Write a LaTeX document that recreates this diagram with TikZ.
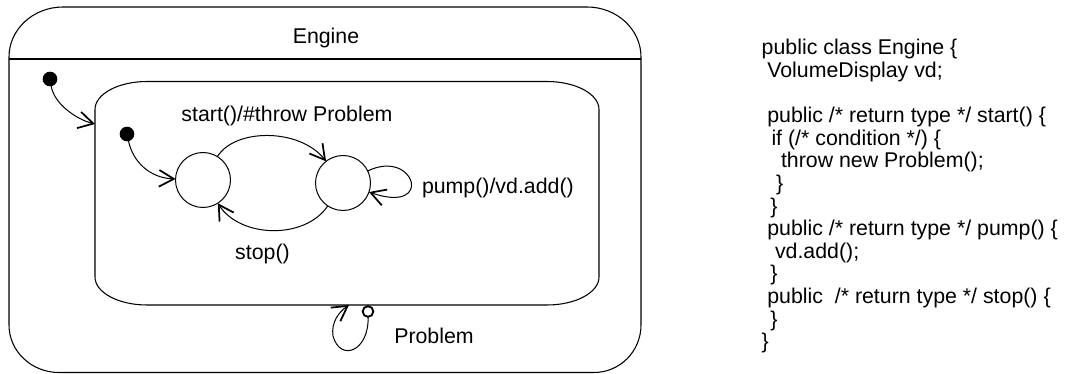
\documentclass[tikz,border=0pt]{standalone}
\usepackage{fontspec}
\setmainfont{Liberation Sans}
\usetikzlibrary{arrows.meta}
\begin{document}
\begin{tikzpicture}[x=0.75pt,y=-0.75pt,
  every node/.style={inner sep=0pt, outer sep=0pt},
  lbl/.style={font=\fontsize{16}{19}\selectfont, anchor=base},
  code/.style={font=\fontsize{16}{19}\selectfont, anchor=base west},
  boxline/.style={line width=0.8pt},
  statec/.style={circle, draw, line width=0.75pt, minimum size=41.25pt},
  initdot/.style={circle, fill=black, minimum size=11pt},
  exitc/.style={circle, draw, line width=1.4pt, minimum size=8pt},
  trans/.style={line width=0.75pt, -{Straight Barb[length=11pt,width=12.5pt,line width=1.3pt]}},
]
\useasboundingbox (0,0) rectangle (1068,374);

% outer composite state Engine
\draw[boxline] (63,7) -- (587,7)
  arc[start angle=-90,end angle=0,x radius=54,y radius=50] -- (641,325)
  arc[start angle=0,end angle=90,x radius=47,y radius=47.5] -- (59,372.5)
  arc[start angle=90,end angle=180,x radius=50,y radius=47.5] -- (9,57)
  arc[start angle=180,end angle=270,x radius=54,y radius=50] -- cycle;
\draw[boxline] (9,59) -- (641,59);
\node[lbl] (engineLbl) at (326,44) {Engine};

% inner composite state
\draw[boxline] (147,81.5) -- (547,81.5)
  arc[start angle=-90,end angle=0,x radius=52,y radius=28] -- (599,277)
  arc[start angle=0,end angle=90,x radius=52,y radius=28] -- (147,305)
  arc[start angle=90,end angle=180,x radius=52,y radius=28] -- (95,109.5)
  arc[start angle=180,end angle=270,x radius=52,y radius=28] -- cycle;
\coordinate (innerL) at (95,124);
\coordinate (exitArr) at (349,305);

% states
\node[initdot] (dot1) at (50,79) {};
\node[initdot] (dot2) at (127,134) {};
\node[statec] (c1) at (203,180) {};
\node[statec] (c2) at (343,183) {};
\node[exitc] (exitp) at (368,311.5) {};

% transitions
\draw[trans] (dot1) .. controls (54,103) and (75,119) .. (innerL);
\draw[trans] (dot2) .. controls (133,162) and (150,178) .. (c1);
\draw[trans] (c1) .. controls (235,128) and (300,128) .. (c2);
\draw[trans] (c2) .. controls (305,240) and (240,238) .. (c1);
\draw[trans] (c2) .. controls (415,148) and (435,215) .. (c2);
\draw[trans] (exitp) .. controls (369,352) and (340,362) .. (333,336)
  .. controls (331,322) and (339,312) .. (exitArr);

% labels
\node[lbl] (startLbl) at (287,122) {start()/\#throw Problem};
\node[lbl, anchor=base west] (pumpLbl) at (422,194) {pump()/vd.add()};
\node[lbl] (stopLbl) at (262.5,260) {stop()};
\node[lbl] (probLbl) at (434,343) {Problem};

% code
\node[code] (l1)  at (761.7,55)    {public class Engine \{};
\node[code] (l2)  at (767.3,77.6)  {VolumeDisplay vd;};
\node[code] (l4)  at (767.3,122.8) {public /* return type */ start() \{};
\node[code] (l5)  at (771.5,145.4) {if (/* condition */) \{};
\node[code] (l6)  at (781,168.0)   {throw new Problem();};
\node[code] (l7)  at (776,190.6)   {\}};
\node[code] (l8)  at (770.3,213.2) {\}};
\node[code] (l9)  at (767.3,235.8) {public /* return type */ pump() \{};
\node[code] (l10) at (775,258.4)   {vd.add();};
\node[code] (l11) at (770.3,281.0) {\}};
\node[code] (l12) at (767.3,303.6) {public\ \ /* return type */ stop() \{};
\node[code] (l13) at (770.3,326.2) {\}};
\node[code] (l14) at (761.7,348.8) {\}};
\end{tikzpicture}
\end{document}
